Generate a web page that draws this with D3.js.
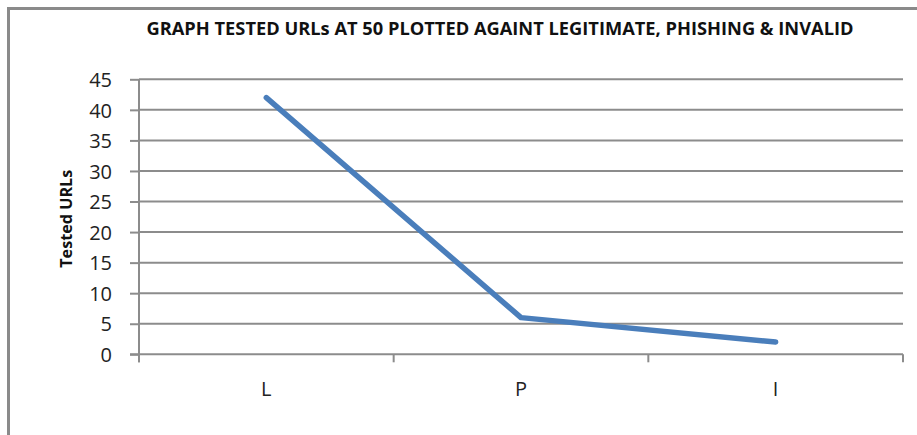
<!DOCTYPE html>
<html>
<head>
<meta charset="utf-8">
<script src="https://cdn.jsdelivr.net/npm/d3@7"></script>
<style>
  html, body { margin: 0; padding: 0; background: #fff; }
  svg { display: block; }
</style>
</head>
<body>
<svg id="chart" width="917" height="435"></svg>
<script>
// Tested URLs per outcome
const categories = ["L", "P", "I"];
const testedUrls = [42, 6, 2];
const yTicks = [0, 5, 10, 15, 20, 25, 30, 35, 40, 45];
const chartTitle = "GRAPH TESTED URLs AT 50 PLOTTED AGAINT LEGITIMATE, PHISHING & INVALID";
const yTitle = "Tested URLs";

const svg = d3.select("#chart");
const W = 917, H = 435;
const plot = { left: 139, right: 903, top: 79.3, bottom: 354.3 };
const gridColor = "#8c8c8c";
const fontFam = "'Open Sans', 'DejaVu Sans', sans-serif";

// chart frame
svg.append("path")
  .attr("d", `M8.5,${H} L8.5,8.5 L${W},8.5`)
  .attr("fill", "none")
  .attr("stroke", "#8a8a8a")
  .attr("stroke-width", 3);

const x = d3.scaleBand().domain(categories).range([plot.left, plot.right]).padding(0);
const y = d3.scaleLinear().domain([0, 45]).range([plot.bottom, plot.top]);

// horizontal gridlines
svg.append("g")
  .selectAll("line")
  .data(yTicks.filter(d => d > 0))
  .join("line")
  .attr("x1", plot.left).attr("x2", plot.right)
  .attr("y1", d => y(d)).attr("y2", d => y(d))
  .attr("stroke", gridColor).attr("stroke-width", 2);

// y axis
const yAxis = svg.append("g")
  .attr("transform", `translate(${plot.left},0)`)
  .call(d3.axisLeft(y).tickValues(yTicks).tickSize(9).tickPadding(18));
yAxis.select(".domain").attr("stroke", gridColor).attr("stroke-width", 2)
  .attr("d", `M0,${plot.bottom + 8}V${plot.top}`);
yAxis.selectAll(".tick line").attr("stroke", gridColor).attr("stroke-width", 2);
yAxis.selectAll(".tick text")
  .attr("fill", "#222")
  .style("font-family", fontFam)
  .style("font-size", "20px")
  .attr("dy", "0.36em");

// x axis with ticks at category boundaries
const xAxis = svg.append("g")
  .attr("transform", `translate(0,${plot.bottom})`);
xAxis.append("line")
  .attr("x1", plot.left - 9).attr("x2", plot.right)
  .attr("stroke", gridColor).attr("stroke-width", 2);
const bounds = categories.map(c => x(c)).concat([x(categories[categories.length - 1]) + x.bandwidth()]);
xAxis.selectAll("line.tk")
  .data(bounds)
  .join("line")
  .attr("class", "tk")
  .attr("x1", d => d).attr("x2", d => d)
  .attr("y1", 0).attr("y2", 8)
  .attr("stroke", gridColor).attr("stroke-width", 2);
xAxis.selectAll("text")
  .data(categories)
  .join("text")
  .attr("x", d => x(d) + x.bandwidth() / 2)
  .attr("y", 42)
  .attr("text-anchor", "middle")
  .attr("fill", "#222")
  .style("font-family", fontFam)
  .style("font-size", "20px")
  .text(d => d);

// data line
const line = d3.line()
  .x((d, i) => x(categories[i]) + x.bandwidth() / 2)
  .y(d => y(d));
svg.append("path")
  .datum(testedUrls)
  .attr("d", line)
  .attr("fill", "none")
  .attr("stroke", "#4a7ebb")
  .attr("stroke-width", 5.5)
  .attr("stroke-linecap", "round")
  .attr("stroke-linejoin", "round");

// titles
svg.append("text")
  .attr("x", 500).attr("y", 35)
  .attr("text-anchor", "middle")
  .attr("textLength", 707)
  .attr("lengthAdjust", "spacingAndGlyphs")
  .attr("fill", "#111")
  .style("font-family", fontFam)
  .style("font-weight", "bold")
  .style("font-size", "17px")
  .text(chartTitle);

svg.append("text")
  .attr("transform", `translate(72,${(plot.top + plot.bottom) / 2 + 2}) rotate(-90)`)
  .attr("text-anchor", "middle")
  .attr("textLength", 98)
  .attr("lengthAdjust", "spacingAndGlyphs")
  .attr("fill", "#111")
  .style("font-family", fontFam)
  .style("font-weight", "bold")
  .style("font-size", "16px")
  .text(yTitle);
</script>
</body>
</html>
